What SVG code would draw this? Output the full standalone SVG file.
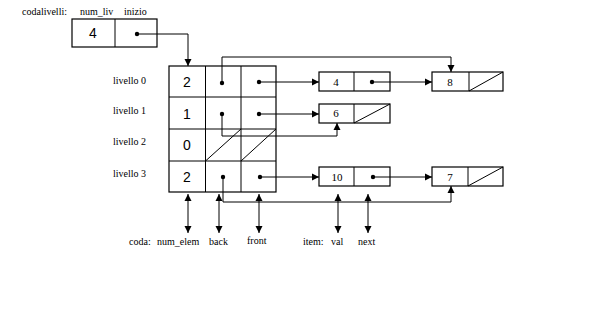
<svg xmlns="http://www.w3.org/2000/svg" width="615" height="312" viewBox="0 0 615 312">
<defs>
<marker id="ah" markerWidth="8" markerHeight="8" refX="7" refY="4" orient="auto" markerUnits="userSpaceOnUse">
<path d="M0,0.5 L7,4 L0,7.5 Z" fill="#000"/>
</marker>
<marker id="ahs" markerWidth="8" markerHeight="8" refX="7" refY="4" orient="auto-start-reverse" markerUnits="userSpaceOnUse">
<path d="M0,0.5 L7,4 L0,7.5 Z" fill="#000"/>
</marker>
</defs>
<style>
.box{fill:#fff;stroke:#000;stroke-width:1.2}
.ln{fill:none;stroke:#000;stroke-width:1}
.lbl{font-family:"Liberation Serif",serif;font-size:10px;fill:#000}
.big{font-family:"Liberation Sans",sans-serif;font-size:14px;fill:#000;text-anchor:middle}
.val{font-family:"Liberation Serif",serif;font-size:11px;fill:#000;text-anchor:middle}
.dot{fill:#000}
</style>
<rect width="615" height="312" fill="#fff"/>

<g id="labels">
<text class="lbl" x="22" y="15">codalivelli:</text>
<text class="lbl" x="80" y="15">num_liv</text>
<text class="lbl" x="124" y="15">inizio</text>
<text class="lbl" x="113" y="84">livello 0</text>
<text class="lbl" x="113" y="114">livello 1</text>
<text class="lbl" x="113" y="145">livello 2</text>
<text class="lbl" x="113" y="177">livello 3</text>
<text class="lbl" x="129" y="245">coda:</text>
<text class="lbl" x="157" y="245">num_elem</text>
<text class="lbl" x="209" y="245">back</text>
<text class="lbl" x="247" y="244">front</text>
<text class="lbl" x="303" y="245">item:</text>
<text class="lbl" x="331" y="245">val</text>
<text class="lbl" x="358" y="245">next</text>
</g>

<g id="codalivelli">
<rect class="box" x="72" y="19" width="85" height="28"/>
<line class="ln" x1="115" y1="19" x2="115" y2="47"/>
<text class="big" x="93" y="38">4</text>
<circle class="dot" cx="137" cy="34" r="2.2"/>
</g>

<g id="grid">
<rect class="box" x="169" y="66" width="107" height="126"/>
<line class="ln" x1="205.5" y1="66" x2="205.5" y2="192"/>
<line class="ln" x1="241" y1="66" x2="241" y2="192"/>
<line class="ln" x1="169" y1="97" x2="276" y2="97"/>
<line class="ln" x1="169" y1="129" x2="276" y2="129"/>
<line class="ln" x1="169" y1="161" x2="276" y2="161"/>
<line class="ln" x1="205.5" y1="161" x2="241" y2="129"/>
<line class="ln" x1="241" y1="161" x2="276" y2="129"/>
<text class="big" x="187" y="87">2</text>
<text class="big" x="187" y="119">1</text>
<text class="big" x="187" y="150">0</text>
<text class="big" x="187" y="182">2</text>
<circle class="dot" cx="222" cy="83" r="2.2"/>
<circle class="dot" cx="259" cy="82" r="2.2"/>
<circle class="dot" cx="222" cy="114" r="2.2"/>
<circle class="dot" cx="259" cy="114" r="2.2"/>
<circle class="dot" cx="223" cy="177" r="2.2"/>
<circle class="dot" cx="260" cy="177" r="2.2"/>
</g>

<g id="node4">
<rect class="box" x="319" y="72" width="71" height="19"/>
<line class="ln" x1="354" y1="72" x2="354" y2="91"/>
<text class="val" x="336" y="86">4</text>
<circle class="dot" cx="372" cy="82" r="2.2"/>
</g>
<g id="node8">
<rect class="box" x="432" y="72" width="71" height="19"/>
<line class="ln" x1="469" y1="72" x2="469" y2="91"/>
<line class="ln" x1="469" y1="91" x2="503" y2="72"/>
<text class="val" x="450" y="86">8</text>
</g>
<g id="node6">
<rect class="box" x="319" y="104" width="71" height="19"/>
<line class="ln" x1="354" y1="104" x2="354" y2="123"/>
<line class="ln" x1="354" y1="123" x2="390" y2="104"/>
<text class="val" x="336" y="117">6</text>
</g>
<g id="node10">
<rect class="box" x="319" y="167" width="71" height="19"/>
<line class="ln" x1="354" y1="167" x2="354" y2="186"/>
<text class="val" x="337" y="181">10</text>
<circle class="dot" cx="373" cy="177" r="2.2"/>
</g>
<g id="node7">
<rect class="box" x="432" y="167" width="71" height="19"/>
<line class="ln" x1="468" y1="167" x2="468" y2="186"/>
<line class="ln" x1="468" y1="186" x2="503" y2="167"/>
<text class="val" x="450" y="181">7</text>
</g>

<g id="connectors">
<polyline class="ln" points="137,34 188,34 188,66" marker-end="url(#ah)"/>
<line class="ln" x1="259" y1="82" x2="319" y2="82" marker-end="url(#ah)"/>
<line class="ln" x1="372" y1="82" x2="432" y2="82" marker-end="url(#ah)"/>
<polyline class="ln" points="222,83 222,57 451,57 451,72" marker-end="url(#ah)"/>
<line class="ln" x1="259" y1="114" x2="319" y2="114" marker-end="url(#ah)"/>
<polyline class="ln" points="222,114 222,136 337,136 337,123" marker-end="url(#ah)"/>
<line class="ln" x1="260" y1="177" x2="319" y2="177" marker-end="url(#ah)"/>
<line class="ln" x1="373" y1="177" x2="432" y2="177" marker-end="url(#ah)"/>
<polyline class="ln" points="223,177 223,202 451,202 451,186" marker-end="url(#ah)"/>
<line class="ln" x1="188" y1="194" x2="188" y2="233" marker-start="url(#ahs)" marker-end="url(#ah)"/>
<line class="ln" x1="219" y1="194" x2="219" y2="233" marker-start="url(#ahs)" marker-end="url(#ah)"/>
<line class="ln" x1="259" y1="194" x2="259" y2="233" marker-start="url(#ahs)" marker-end="url(#ah)"/>
<line class="ln" x1="338" y1="194" x2="338" y2="233" marker-start="url(#ahs)" marker-end="url(#ah)"/>
<line class="ln" x1="368" y1="194" x2="368" y2="233" marker-start="url(#ahs)" marker-end="url(#ah)"/>
</g>
</svg>
